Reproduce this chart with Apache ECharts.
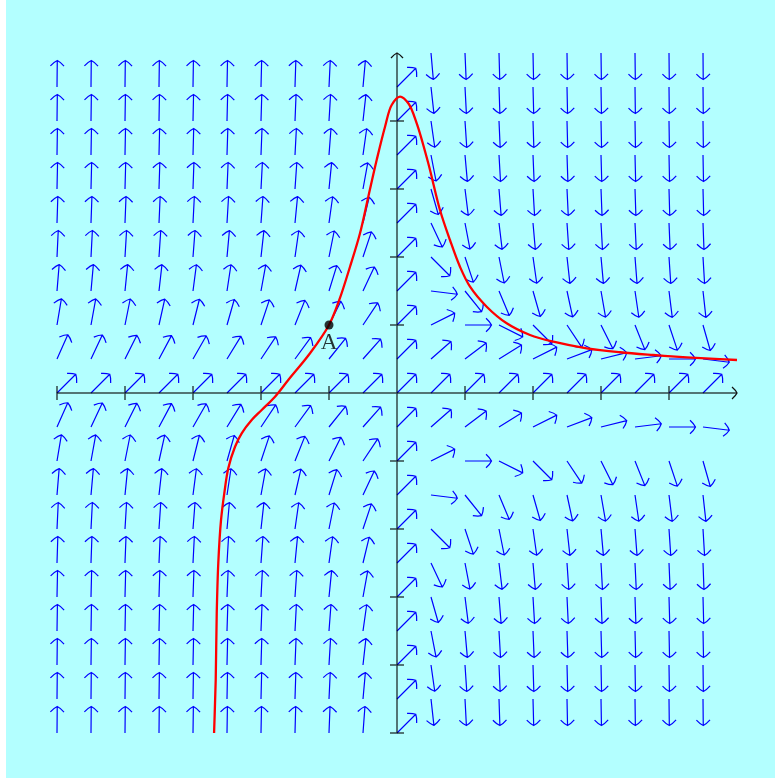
<!DOCTYPE html>
<html>
<head>
<meta charset="utf-8">
<script src="https://cdn.jsdelivr.net/npm/echarts/dist/echarts.min.js"></script>
<style>
  html, body { margin: 0; padding: 0; background: #ffffff; }
  #chart { width: 775px; height: 778px; }
</style>
</head>
<body>
<div id="chart"></div>
<script>
// Direction field of y' = 1 - x*y^2: columns of arrow tails
const fieldX = [-5, -4.5, -4, -3.5, -3, -2.5, -2, -1.5, -1, -0.5, 0, 0.5, 1, 1.5, 2, 2.5, 3, 3.5, 4, 4.5];
// |y| of each row of arrow tails (the field is mirror-symmetric about the x-axis)
const fieldAbsY = [0, 0.5, 1, 1.5, 2, 2.5, 3, 3.5, 4, 4.5, 5];
// arrow directions in degrees, one row per |y|, columns follow fieldX
const angleRow0   = [45, 45, 45, 45, 45, 45, 45, 45, 45, 45, 45, 45, 45, 45, 45, 45, 45, 45, 45, 45];
const angleRow0_5 = [66.0, 64.8, 63.4, 61.9, 60.3, 58.4, 56.3, 54.0, 51.3, 48.4, 45, 41.2, 36.9, 32.0, 26.6, 20.6, 14.0, 7.1, 0, -7.1];
const angleRow1   = [80.5, 79.7, 78.7, 77.5, 76.0, 74.1, 71.6, 68.2, 63.4, 56.3, 45, 26.6, 0, -26.6, -45, -56.3, -63.4, -68.2, -71.6, -74.1];
const angleRow1_5 = [85.3, 84.9, 84.3, 83.6, 82.6, 81.4, 79.7, 77.1, 72.9, 64.8, 45, -7.1, -51.3, -67.2, -74.1, -77.8, -80.1, -81.7, -82.9, -83.7];
const angleRow2   = [87.3, 87.0, 86.6, 86.2, 85.6, 84.8, 83.7, 81.9, 78.7, 71.6, 45, -45, -71.6, -78.7, -81.9, -83.7, -84.8, -85.6, -86.2, -86.6];
const angleRow2_5 = [88.2, 88.0, 87.8, 87.5, 87.1, 86.6, 85.8, 84.5, 82.1, 76.4, 45, -64.8, -79.2, -83.2, -85.0, -86.1, -86.8, -87.3, -87.6, -87.9];
const angleRow3   = [88.8, 88.6, 88.5, 88.2, 88.0, 87.6, 87.0, 86.1, 84.3, 79.7, 45, -74.1, -82.9, -85.4, -86.6, -87.3, -87.8, -88.1, -88.4, -88.5];
const angleRow3_5 = [89.1, 89.0, 88.9, 88.7, 88.5, 88.2, 87.8, 87.0, 85.7, 82.0, 45, -79.0, -84.9, -86.7, -87.6, -88.1, -88.4, -88.6, -88.8, -88.9];
const angleRow4   = [89.3, 89.2, 89.1, 89.0, 88.8, 88.6, 88.3, 87.7, 86.6, 83.7, 45, -81.9, -86.2, -87.5, -88.2, -88.5, -88.8, -89.0, -89.1, -89.2];
const angleRow4_5 = [89.4, 89.4, 89.3, 89.2, 89.1, 88.9, 88.6, 88.2, 87.3, 84.9, 45, -83.7, -87.0, -88.1, -88.5, -88.8, -89.0, -89.2, -89.3, -89.4];
const angleRow5   = [89.5, 89.5, 89.4, 89.4, 89.2, 89.1, 88.9, 88.5, 87.8, 85.8, 45, -85.0, -87.6, -88.4, -88.8, -89.1, -89.2, -89.3, -89.4, -89.5];

// solution curve through A
const curveX = [-2.69, -2.666, -2.651, -2.628, -2.588, -2.54, -2.481, -2.382, -2.284, -2.137, -1.99, -1.794, -1.599, -1.279, -1, -0.849, -0.691, -0.544, -0.422, -0.299, -0.176, -0.078, 0.044, 0.166, 0.29, 0.46, 0.632, 0.779, 0.926, 1.074, 1.319, 1.613, 1.956, 2.299, 2.79, 3.279, 3.769, 4.26, 5.0];
const curveY = [-5, -4.22, -3.24, -2.5, -1.87, -1.475, -1.107, -0.79, -0.593, -0.397, -0.25, -0.054, 0.191, 0.584, 1, 1.368, 1.857, 2.349, 2.887, 3.426, 3.916, 4.235, 4.357, 4.26, 3.966, 3.378, 2.691, 2.25, 1.857, 1.563, 1.269, 1.025, 0.853, 0.754, 0.657, 0.599, 0.559, 0.525, 0.485];

// marked point
const pointA = [-1, 1];
const pointLabel = 'A';

// axes
const axisRange = [-5, 5];
const tickValues = [-5, -4, -3, -2, -1, 0, 1, 2, 3, 4];

// ---- build the field table ----
const angleRows = [angleRow0, angleRow0_5, angleRow1, angleRow1_5, angleRow2, angleRow2_5,
                   angleRow3, angleRow3_5, angleRow4, angleRow4_5, angleRow5];
const ARROW_LEN = 0.39; // arrow length in axis units
const fieldData = [];
const rowYs = fieldAbsY.slice(1).reverse().map(v => -v).concat(fieldAbsY);
rowYs.forEach(y => {
  const row = angleRows[fieldAbsY.indexOf(Math.abs(y))];
  fieldX.forEach((x, i) => {
    const a = row[i] * Math.PI / 180;
    const tx = x + ARROW_LEN * Math.cos(a);
    const ty = y + ARROW_LEN * Math.sin(a);
    // keep only arrows that stay inside the plotting window
    if (tx <= axisRange[1] + 1e-9 && ty <= axisRange[1] + 1e-9 && ty >= axisRange[0] - 1e-9) {
      fieldData.push([x, y, row[i]]);
    }
  });
});
const curveData = curveX.map((x, i) => [x, curveY[i]]);

// open, slightly curved arrow head at `tip`, pointing along unit vector u
function headPath(tip, ux, uy, back, side) {
  const nx = -uy, ny = ux;
  const w1 = [tip[0] - ux * back + nx * side, tip[1] - uy * back + ny * side];
  const w2 = [tip[0] - ux * back - nx * side, tip[1] - uy * back - ny * side];
  const c1 = [tip[0] - ux * back * 0.25 + nx * side * 0.45, tip[1] - uy * back * 0.25 + ny * side * 0.45];
  const c2 = [tip[0] - ux * back * 0.25 - nx * side * 0.45, tip[1] - uy * back * 0.25 - ny * side * 0.45];
  return 'M' + w1[0] + ' ' + w1[1] + ' Q' + c1[0] + ' ' + c1[1] + ' ' + tip[0] + ' ' + tip[1] +
         ' Q' + c2[0] + ' ' + c2[1] + ' ' + w2[0] + ' ' + w2[1];
}

// centripetal Catmull-Rom spline through pixel points, as SVG path data
function splinePath(pts) {
  const n = pts.length;
  const get = i => {
    if (i < 0) return [2 * pts[0][0] - pts[1][0], 2 * pts[0][1] - pts[1][1]];
    if (i >= n) return [2 * pts[n - 1][0] - pts[n - 2][0], 2 * pts[n - 1][1] - pts[n - 2][1]];
    return pts[i];
  };
  const dist = (a, b) => Math.pow(Math.hypot(b[0] - a[0], b[1] - a[1]), 0.5) || 1e-6;
  let d = 'M' + pts[0][0] + ' ' + pts[0][1];
  for (let i = 0; i < n - 1; i++) {
    const p0 = get(i - 1), p1 = get(i), p2 = get(i + 1), p3 = get(i + 2);
    const d1 = dist(p0, p1), d2 = dist(p1, p2), d3 = dist(p2, p3);
    const b1 = [0, 1].map(k => (d1 * d1 * p2[k] - d2 * d2 * p0[k] + (2 * d1 * d1 + 3 * d1 * d2 + d2 * d2) * p1[k]) / (3 * d1 * (d1 + d2)));
    const b2 = [0, 1].map(k => (d3 * d3 * p1[k] - d2 * d2 * p3[k] + (2 * d3 * d3 + 3 * d3 * d2 + d2 * d2) * p2[k]) / (3 * d3 * (d3 + d2)));
    d += ' C' + b1[0] + ' ' + b1[1] + ' ' + b2[0] + ' ' + b2[1] + ' ' + p2[0] + ' ' + p2[1];
  }
  return d;
}

const chart = echarts.init(document.getElementById('chart'), null, { renderer: 'canvas' });

const option = {
  animation: false,
  backgroundColor: 'transparent',
  graphic: [{
    type: 'rect',
    z: -10,
    silent: true,
    shape: { x: 6, y: 0, width: 769, height: 778 },
    style: { fill: '#b3ffff' }
  }],
  grid: { left: 57, top: 53, width: 680, height: 680, containLabel: false },
  xAxis: {
    type: 'value', min: axisRange[0], max: axisRange[1],
    axisLine: { show: false }, axisTick: { show: false }, axisLabel: { show: false }, splitLine: { show: false }
  },
  yAxis: {
    type: 'value', min: axisRange[0], max: axisRange[1],
    axisLine: { show: false }, axisTick: { show: false }, axisLabel: { show: false }, splitLine: { show: false }
  },
  series: [
    {
      // direction field
      type: 'custom',
      z: 2,
      silent: true,
      data: fieldData,
      renderItem: function (params, api) {
        const x = api.value(0), y = api.value(1), a = api.value(2) * Math.PI / 180;
        const p0 = api.coord([x, y]);
        const p1 = api.coord([x + ARROW_LEN * Math.cos(a), y + ARROW_LEN * Math.sin(a)]);
        const dx = p1[0] - p0[0], dy = p1[1] - p0[1];
        const len = Math.hypot(dx, dy);
        const ux = dx / len, uy = dy / len;
        const d = 'M' + p0[0] + ' ' + p0[1] + ' L' + p1[0] + ' ' + p1[1] + ' ' + headPath(p1, ux, uy, 5.5, 6.8);
        return {
          type: 'path',
          shape: { pathData: d },
          style: { fill: 'none', stroke: '#0000ff', lineWidth: 1.2 }
        };
      }
    },
    {
      // coordinate axes with ticks
      type: 'custom',
      z: 3,
      silent: true,
      data: [[0]],
      renderItem: function (params, api) {
        const axisColor = 'rgba(0,0,0,0.72)';
        const xs = api.coord([axisRange[0], 0]), xe = api.coord([axisRange[1], 0]);
        const ys = api.coord([0, axisRange[0]]), ye = api.coord([0, axisRange[1]]);
        let d = 'M' + xs[0] + ' ' + xs[1] + ' L' + xe[0] + ' ' + xe[1] +
                ' M' + ys[0] + ' ' + ys[1] + ' L' + ye[0] + ' ' + ye[1];
        const T = 7;
        tickValues.forEach(v => {
          const px = api.coord([v, 0]);
          d += ' M' + px[0] + ' ' + (px[1] - T) + ' L' + px[0] + ' ' + (px[1] + T);
          const py = api.coord([0, v]);
          d += ' M' + (py[0] - T) + ' ' + py[1] + ' L' + (py[0] + T) + ' ' + py[1];
        });
        const heads = headPath(xe, 1, 0, 5, 6) + ' ' + headPath(ye, 0, -1, 5, 6);
        return {
          type: 'group',
          children: [
            { type: 'path', shape: { pathData: d }, style: { fill: 'none', stroke: axisColor, lineWidth: 1.5 } },
            { type: 'path', shape: { pathData: heads }, style: { fill: 'none', stroke: '#111111', lineWidth: 1.3 } }
          ]
        };
      }
    },
    {
      // solution curve, drawn as a smooth spline through the data points
      type: 'custom',
      z: 4,
      silent: true,
      data: [[0]],
      renderItem: function (params, api) {
        const pts = curveData.map(p => api.coord(p));
        return {
          type: 'path',
          shape: { pathData: splinePath(pts) },
          style: { fill: 'none', stroke: '#ff0000', lineWidth: 2.3, lineJoin: 'round' }
        };
      }
    },
    {
      type: 'scatter',
      z: 5,
      data: [pointA],
      symbol: 'circle',
      symbolSize: 9,
      itemStyle: { color: '#000000' },
      label: {
        show: true,
        position: 'bottom',
        distance: 2,
        formatter: pointLabel,
        fontFamily: 'Liberation Serif',
        fontSize: 23,
        color: '#000000'
      },
      silent: true
    }
  ]
};

chart.setOption(option);
</script>
</body>
</html>
